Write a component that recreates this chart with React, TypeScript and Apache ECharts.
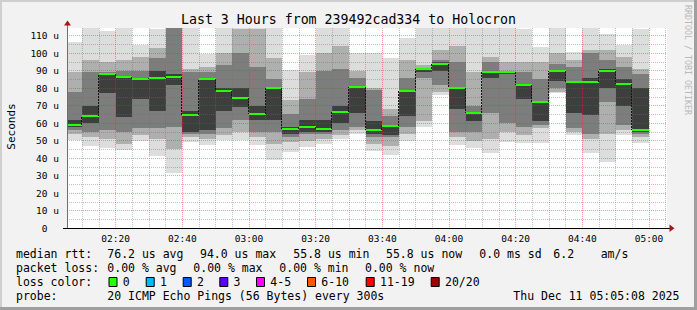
import React, { useEffect, useRef } from "react";
import * as echarts from "echarts";

// ---- data ----
const binStarts = [
  "02:05", "02:10", "02:15", "02:20", "02:25", "02:30", "02:35", "02:40", "02:45", "02:50", "02:55",
  "03:00", "03:05", "03:10", "03:15", "03:20", "03:25", "03:30", "03:35", "03:40", "03:45", "03:50", "03:55",
  "04:00", "04:05", "04:10", "04:15", "04:20", "04:25", "04:30", "04:35", "04:40", "04:45", "04:50", "04:55",
];
const medianRtt = [
  59.0, 64.2, 88.0, 86.3, 85.3, 85.9, 86.5, 64.8, 85.3, 78.5, 74.5,
  65.3, 80.2, 56.8, 57.9, 56.8, 66.5, 80.8, 55.9, 58.5, 78.5, 90.7, 94.0,
  80.2, 65.5, 89.3, 89.3, 81.7, 72.2, 89.9, 83.6, 83.6, 89.9, 82.5, 55.8,
];
// smoke layers, outermost (lightest) to innermost (darkest)
const smokeL0Lo = [50.3, 47, 46, 44.6, 50, 41.3, 31.2, 49.3, 47.4, 50.3, 50.3, 47.4, 39, 43.6, 46.5, 47.8, 51, 54, 44, 42, 50, 58, 76, 47.4, 46, 43, 49.3, 48.4, 48.4, 77, 53, 42.7, 37.5, 53, 48.4];
const smokeL0Hi = [106.5, 116, 112.6, 116, 104.6, 113.7, 118, 116, 99.2, 114.5, 116, 116, 115, 90.3, 99, 116, 116, 99.8, 99.8, 97, 108.8, 116, 116, 116, 116, 116, 116, 113.7, 103.6, 116, 100.8, 116, 111, 104.6, 113.7];
const smokeL1Lo = [54, 52, 51, 48, 53, 51, 45, 52, 51, 53, 55, 52, 48, 49, 50, 51, 53, 56, 48, 47, 54, 61, 78, 52, 50, 51, 55, 53, 57, 78, 55, 51, 54, 56, 52];
const smokeL1Hi = [89, 96, 95, 96, 98, 103, 118, 91, 92, 100, 114, 114, 97, 73, 89, 100, 104, 90, 80, 68, 96, 93, 102, 104, 89, 98, 95, 95, 95, 99.8, 96, 102, 101.7, 98, 91];
const smokeL2Lo = [56, 55, 56, 55, 57, 57, 58, 54, 54, 57, 62, 55, 55, 52, 54, 54, 56, 58, 52, 52, 58, 86, 82, 55, 55, 66, 60, 58, 59, 80, 57, 54, 72, 59, 54];
const smokeL2Hi = [78, 89, 89, 90, 90, 97, 118, 89, 89, 93, 100, 92, 85, 65, 74, 90, 91, 86, 79, 64, 86, 91.5, 96, 95, 70, 95, 90, 89, 85, 94, 92, 100, 96, 92, 88];
const smokeL3Lo = [58, 60, 77, 63.6, 74, 67, 82, 55, 56, 67, 69, 62, 62, 54, 55, 55, 60, 66, 54, 53, 64, 89, 90, 68, 61, 86, 88, 74, 61, 84, 66, 64.6, 80, 70, 55];
const smokeL3Hi = [62, 70, 88.5, 86.5, 85.5, 90, 88, 67, 85.5, 80, 80, 70, 80.5, 58, 62, 62, 70, 81, 61, 59, 79, 91.5, 95, 80.5, 66, 90, 89.6, 82, 72.5, 90, 84, 86, 91, 85, 80];

const xTickLabels = ["02:20", "02:40", "03:00", "03:20", "03:40", "04:00", "04:20", "04:40", "05:00"];
const xMinorTicks = [
  "02:10", "02:15", "02:25", "02:30", "02:35", "02:45", "02:50", "02:55", "03:05", "03:10", "03:15",
  "03:25", "03:30", "03:35", "03:45", "03:50", "03:55", "04:05", "04:10", "04:15", "04:25", "04:30",
  "04:35", "04:45", "04:50", "04:55", "05:05",
];
const yTickValues = [0, 10, 20, 30, 40, 50, 60, 70, 80, 90, 100, 110];
const yTickLabels = ["0\u00a0\u00a0", "10 u", "20 u", "30 u", "40 u", "50 u", "60 u", "70 u", "80 u", "90 u", "100 u", "110 u"];
const yMinorTicks = [5, 15, 25, 35, 45, 55, 65, 75, 85, 95, 105];

const rttLabel = "median rtt:";
const rttStats = ["76.2 us avg", "94.0 us max", "55.8 us min", "55.8 us now", "0.0 ms sd", "6.2", "am/s"];
const lossLabel = "packet loss:";
const lossStats = ["0.00 % avg", "0.00 % max", "0.00 % min", "0.00 % now"];
const lossColorLabel = "loss color:";
const lossColorNames = ["0", "1", "2", "3", "4-5", "6-10", "11-19", "20/20"];
const lossColors = ["#26ff00", "#00b8ff", "#0059ff", "#5e00ff", "#ff00ff", "#ff5500", "#ff0000", "#a10000"];
const probeLabel = "probe:";
const probeText = "20 ICMP Echo Pings (56 Bytes) every 300s";
const stampText = "Thu Dec 11 05:05:08 2025";
const titleText = "Last 3 Hours from 239492cad334 to Holocron";

// ---- layout / style ----
const X_MIN = 125.4;
const X_MAX = 305.4;
const Y_MAX = 114.3;
const MONO = '"DejaVu Sans Mono", monospace';
const layerColors = ["#dddddd", "#afafaf", "#7d7d7d", "#3e3e3e"];
const MAJOR_GRID = "rgba(235,40,40,0.45)";
const MINOR_GRID = "rgba(110,110,110,0.42)";

const toMin = (s: string) => {
  const [h, m] = s.split(":").map(Number);
  return h * 60 + m;
};
const fmtMin = (v: number) => {
  const h = Math.floor(v / 60);
  const m = Math.round(v - h * 60);
  return String(h).padStart(2, "0") + ":" + String(m).padStart(2, "0");
};

function buildOption() {
  const layers = [
    [smokeL0Lo, smokeL0Hi],
    [smokeL1Lo, smokeL1Hi],
    [smokeL2Lo, smokeL2Hi],
    [smokeL3Lo, smokeL3Hi],
  ];
  const smokeData: number[][] = [];
  binStarts.forEach((s, i) => {
    const t0 = toMin(s);
    layers.forEach(([lo, hi], k) => smokeData.push([t0, t0 + 5, lo[i], hi[i], k]));
  });
  const medianData = binStarts.map((s, i) => [
    toMin(s),
    toMin(s) + 5,
    medianRtt[i],
    i > 0 ? medianRtt[i - 1] : medianRtt[i],
  ]);

  const xMajorValues = xTickLabels.map(toMin);
  const xMinorValues = xMinorTicks.map(toMin);

  const graphic: any[] = [];
  const txt = (text: string, x: number, y: number, size: number, extra: any = {}) => ({
    type: "text",
    x,
    y,
    silent: true,
    ...extra,
    style: {
      text,
      font: `${size}px ${MONO}`,
      fill: extra.fill || "#000",
      align: extra.align || "left",
      textAlign: extra.align || "left",
      verticalAlign: "middle",
      textVerticalAlign: "middle",
    },
  });

  graphic.push({ type: "rect", shape: { x: 0, y: 0, width: 697, height: 2 }, style: { fill: "#cfcfcf" }, silent: true });
  graphic.push({ type: "rect", shape: { x: 0, y: 0, width: 2, height: 310 }, style: { fill: "#cfcfcf" }, silent: true });
  graphic.push({ type: "rect", shape: { x: 694, y: 0, width: 3, height: 310 }, style: { fill: "#9f9f9f" }, silent: true });
  graphic.push({ type: "rect", shape: { x: 0, y: 307, width: 697, height: 3 }, style: { fill: "#9f9f9f" }, silent: true });

  graphic.push({ type: "line", shape: { x1: 67.5, y1: 228, x2: 67.5, y2: 24 }, style: { stroke: "#6e6e6e", lineWidth: 1 }, silent: true, z: 50 });
  graphic.push({ type: "line", shape: { x1: 63, y1: 228.5, x2: 670, y2: 228.5 }, style: { stroke: "#000", lineWidth: 1 }, silent: true, z: 50 });
  graphic.push({ type: "polygon", shape: { points: [[64, 25.5], [71, 25.5], [67.5, 20.5]] }, style: { fill: "#a01818" }, silent: true, z: 51 });
  graphic.push({ type: "polygon", shape: { points: [[669.5, 224.5], [669.5, 232], [674.5, 228.3]] }, style: { fill: "#a01818" }, silent: true, z: 51 });

  graphic.push(txt(titleText, 348.5, 19, 13.25, { align: "center" }));
  graphic.push(txt("Seconds", 11, 126.5, 11, { align: "center", rotation: Math.PI / 2 }));
  graphic.push(txt("RRDTOOL / TOBI OETIKER", 687.5, 60, 8.3, { align: "center", rotation: -Math.PI / 2, fill: "#b8b8b8" }));

  const LS = 11.5;
  const rttX = [107.3, 200, 293.3, 386, 479.3, 553.3, 600.7];
  graphic.push(txt(rttLabel, 16, 254, LS));
  rttStats.forEach((s, i) => graphic.push(txt(s, rttX[i], 254, LS)));
  const lossX = [107.3, 193.3, 279.3, 365];
  graphic.push(txt(lossLabel, 16, 268.3, LS));
  lossStats.forEach((s, i) => graphic.push(txt(s, lossX[i], 268.3, LS)));
  graphic.push(txt(lossColorLabel, 16, 281.7, LS));
  const boxX = [108.5, 145.7, 182.7, 219.3, 256, 307, 365.7, 430.7];
  lossColorNames.forEach((n, i) => {
    graphic.push({
      type: "rect",
      shape: { x: boxX[i] + 0.5, y: 277.5, width: 8, height: 9 },
      style: { fill: lossColors[i], stroke: "#000", lineWidth: 1 },
      silent: true,
    });
    graphic.push(txt(n, boxX[i] + 14.3, 281.7, LS));
  });
  graphic.push(txt(probeLabel, 16, 296.3, LS));
  graphic.push(txt(probeText, 107.3, 296.3, LS));
  graphic.push(txt(stampText, 513.3, 296.3, LS));

  const baseX = {
    type: "value",
    min: X_MIN,
    max: X_MAX,
    gridIndex: 0,
    position: "bottom",
    z: 10,
    axisLine: { show: false },
  };
  const baseY = {
    type: "value",
    min: 0,
    max: Y_MAX,
    gridIndex: 0,
    position: "left",
    z: 10,
    axisLine: { show: false },
  };

  return {
    animation: false,
    backgroundColor: "#f2f2f2",
    textStyle: { fontFamily: MONO },
    grid: {
      left: 67,
      top: 28,
      width: 600,
      height: 200,
      show: true,
      backgroundColor: "#ffffff",
      borderWidth: 0,
      containLabel: false,
    },
    xAxis: [
      {
        ...baseX,
        axisTick: { show: false, customValues: xMajorValues },
        splitLine: { show: true, lineStyle: { color: MAJOR_GRID, width: 1, type: [1, 1] } },
        axisLabel: {
          customValues: xMajorValues,
          formatter: (v: number) => fmtMin(v),
          fontFamily: MONO,
          fontSize: 9.5,
          color: "#000",
          margin: 5,
        },
      },
      {
        ...baseX,
        axisTick: { show: false, customValues: xMinorValues },
        splitLine: { show: true, lineStyle: { color: MINOR_GRID, width: 1, type: [1, 1] } },
        axisLabel: { show: false },
      },
    ],
    yAxis: [
      {
        ...baseY,
        axisTick: { show: false, customValues: yTickValues },
        splitLine: { show: true, lineStyle: { color: MAJOR_GRID, width: 1, type: [1, 1] } },
        axisLabel: {
          customValues: yTickValues,
          formatter: (v: number) => yTickLabels[yTickValues.indexOf(Math.round(v))] || "",
          fontFamily: MONO,
          fontSize: 9.5,
          color: "#000",
          margin: 8,
        },
      },
      {
        ...baseY,
        axisTick: { show: false, customValues: yMinorTicks },
        splitLine: { show: true, lineStyle: { color: MINOR_GRID, width: 1, type: [1, 1] } },
        axisLabel: { show: false },
      },
    ],
    graphic,
    series: [
      {
        type: "custom",
        name: "smoke",
        silent: true,
        clip: true,
        z: 2,
        xAxisIndex: 0,
        yAxisIndex: 0,
        data: smokeData,
        renderItem: (params: any, api: any) => {
          const p0 = api.coord([api.value(0), api.value(3)]);
          const p1 = api.coord([api.value(1), api.value(2)]);
          const x0 = Math.round(p0[0]);
          const x1 = Math.round(p1[0]);
          const y0 = Math.round(p0[1]);
          const y1 = Math.round(p1[1]);
          return {
            type: "rect",
            shape: { x: x0, y: y0, width: x1 - x0, height: y1 - y0 },
            style: { fill: layerColors[api.value(4)] },
          };
        },
      },
      {
        type: "custom",
        name: "median",
        silent: true,
        clip: true,
        z: 20,
        xAxisIndex: 0,
        yAxisIndex: 0,
        data: medianData,
        renderItem: (params: any, api: any) => {
          const a = api.coord([api.value(0), api.value(2)]);
          const b = api.coord([api.value(1), api.value(2)]);
          const prev = api.coord([api.value(0), api.value(3)]);
          const x0 = Math.round(a[0]);
          const x1 = Math.round(b[0]);
          const y = Math.round(a[1]);
          const children: any[] = [];
          if (Math.abs(prev[1] - a[1]) > 1) {
            children.push({
              type: "line",
              shape: { x1: x0 - 0.5, y1: Math.round(prev[1]), x2: x0 - 0.5, y2: y },
              style: { stroke: "#141414", lineWidth: 1, lineDash: [2, 1] },
            });
          }
          children.push({
            type: "rect",
            shape: { x: x0, y: y - 1, width: x1 - x0, height: 2 },
            style: { fill: "#26ff00" },
          });
          return { type: "group", children };
        },
      },
    ],
  };
}

export default function App() {
  const ref = useRef<HTMLDivElement>(null);
  useEffect(() => {
    if (!ref.current) return;
    const chart = echarts.init(ref.current, null, { renderer: "svg", width: 697, height: 310 });
    chart.setOption(buildOption() as any);
    return () => chart.dispose();
  }, []);
  return (
    <div
      ref={ref}
      style={{ position: "absolute", left: 0, top: 0, width: 697, height: 310 }}
    />
  );
}
